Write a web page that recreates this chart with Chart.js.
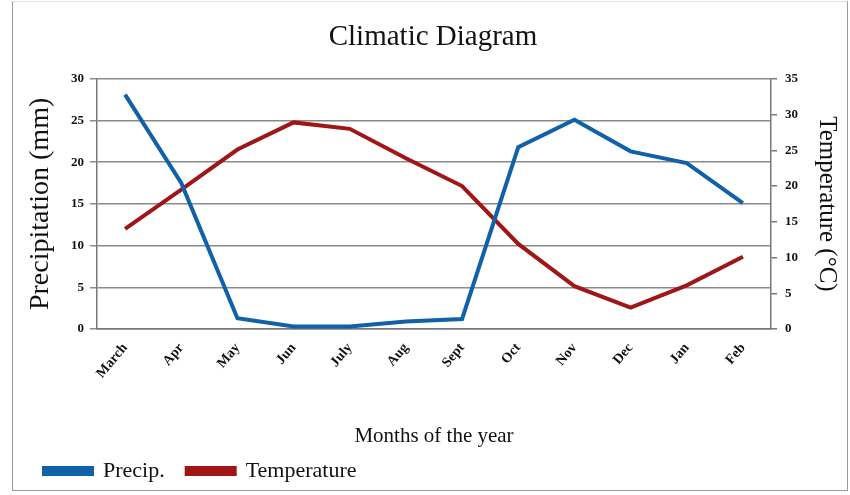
<!DOCTYPE html>
<html lang="en">
<head>
    <meta charset="UTF-8">
    <title>Climatic Diagram</title>
    <script src="https://cdn.jsdelivr.net/npm/chart.js"></script>
    <style>
        body{margin:0;background:#fff;}
        .frame{position:absolute;left:12px;top:1px;width:834px;height:488px;border:1px solid #9a9a9a;border-top-color:#ddd;}
        .box{position:absolute;left:0;top:0;width:850px;height:495px;}
    </style>
</head>
<body>
    <div class="frame"></div>
    <div class="box">
        <canvas id="myChart1" width="850" height="495"></canvas>
    </div>

    <script>
        // 데이터
        const months = ['March','Apr','May','Jun','July','Aug','Sept','Oct','Nov','Dec','Jan','Feb'];
        const precip = [28.1, 17.5, 1.3, 0.3, 0.3, 0.9, 1.2, 21.8, 25.1, 21.3, 19.9, 15.1];
        const temperature = [14.0, 19.5, 25.1, 28.9, 28.0, 23.9, 20.0, 11.9, 6.0, 3.0, 6.1, 10.1];
        const precipTicks = [0, 5, 10, 15, 20, 25, 30];
        const tempTicks = [0, 5, 10, 15, 20, 25, 30, 35];

        const serif = "'Liberation Serif', 'Times New Roman', serif";
        const blue = '#1160aa';
        const red = '#a01515';

        var data = {
            labels: months,
            datasets: [{
                label: 'Precip.',
                data: precip,
                borderColor: blue,
                backgroundColor: blue,
                borderWidth: 4,
                pointRadius: 0,
                tension: 0,
                yAxisID: 'y'
            },{
                label: 'Temperature',
                data: temperature,
                borderColor: red,
                backgroundColor: red,
                borderWidth: 4,
                pointRadius: 0,
                tension: 0,
                yAxisID: 'y1'
            }]
        };

        var options = {
            responsive: false,
            animation: false,
            layout: { padding: { left: 22, right: 6, top: 8, bottom: 3 } },
            plugins: {
                title: {
                    display: true,
                    text: 'Climatic Diagram',
                    color: '#111',
                    font: { family: serif, size: 29, weight: 'normal', lineHeight: 1.2 },
                    padding: { top: 12, bottom: 24 }
                },
                legend: {
                    position: 'bottom',
                    align: 'start',
                    labels: {
                        color: '#111',
                        font: { family: serif, size: 22 },
                        boxWidth: 48,
                        boxHeight: 6,
                        padding: 22
                    }
                },
                tooltip: { enabled: false }
            },
            scales: {
                x: {
                    offset: true,
                    grid: { display: false },
                    border: { color: '#777', width: 1.5 },
                    ticks: {
                        color: '#111',
                        minRotation: 50,
                        maxRotation: 50,
                        font: { family: serif, size: 14, weight: 'bold' }
                    },
                    title: {
                        display: true,
                        text: 'Months of the year',
                        color: '#111',
                        font: { family: serif, size: 21 },
                        padding: { top: 0, bottom: -11 }
                    },
                    afterFit: (scale) => { scale.height = 109; }
                },
                y: {
                    position: 'left',
                    min: 0,
                    max: 30,
                    afterBuildTicks: (scale) => { scale.ticks = precipTicks.map(v => ({ value: v })); },
                    grid: { color: '#8a8a8a', lineWidth: 1.5, tickLength: 7 },
                    border: { color: '#777', width: 1.5 },
                    ticks: {
                        color: '#111',
                        padding: 6,
                        font: { family: serif, size: 13, weight: 'bold' }
                    },
                    title: {
                        display: true,
                        text: 'Precipitation (mm)',
                        color: '#111',
                        font: { family: serif, size: 28 },
                        padding: { top: 2, bottom: 0 }
                    },
                    afterFit: (scale) => { scale.width = 75; }
                },
                y1: {
                    position: 'right',
                    min: 0,
                    max: 35,
                    afterBuildTicks: (scale) => { scale.ticks = tempTicks.map(v => ({ value: v })); },
                    grid: { drawOnChartArea: false, color: '#777', lineWidth: 1.5, tickLength: 6 },
                    border: { color: '#777', width: 1.5 },
                    ticks: {
                        color: '#111',
                        padding: 8,
                        font: { family: serif, size: 13, weight: 'bold' }
                    },
                    title: {
                        display: true,
                        text: 'Temperature (°C)',
                        color: '#111',
                        font: { family: serif, size: 25 },
                        padding: { top: 2, bottom: 0 }
                    },
                    afterFit: (scale) => { scale.width = 73; }
                }
            }
        };

        var ctx = document.querySelector('#myChart1').getContext('2d');
        var myChart = new Chart(ctx, {
            type: 'line',
            data: data,
            options: options
        });
    </script>
</body>
</html>
